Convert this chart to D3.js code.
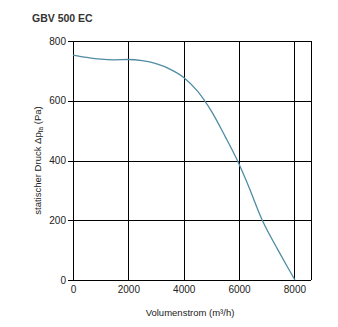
<!DOCTYPE html>
<html>
<head>
<meta charset="utf-8">
<script src="https://cdn.jsdelivr.net/npm/d3@7"></script>
<style>
  html, body { margin: 0; padding: 0; background: #fff; }
  svg { display: block; }
  text { font-family: "Liberation Sans", Arial, sans-serif; fill: #222; }
</style>
</head>
<body>
<svg id="chart" width="338" height="327"></svg>
<script>
// Fan curve: static pressure vs. air volume flow
const title = "GBV 500 EC";
const flow = [0, 500, 1000, 1500, 2000, 2500, 3000, 3500, 4000, 4500, 5000, 5500, 5940, 6300, 6840, 7410, 7740, 8020];
const pressure = [753, 745, 739, 737, 738, 734, 724, 706, 678, 632, 565, 480, 400, 324, 200, 100, 45, 0];
const xTicks = [0, 2000, 4000, 6000, 8000];
const yTicks = [0, 200, 400, 600, 800];

const svg = d3.select("#chart");
const m = { left: 73, right: 311, top: 41, bottom: 280 };

const x = d3.scaleLinear().domain([0, 8600]).range([m.left, m.right]);
const y = d3.scaleLinear().domain([0, 800]).range([m.bottom, m.top]);

// Title
svg.append("text")
  .attr("x", 32).attr("y", 22)
  .style("font-weight", "bold").style("font-size", "10.5px")
  .style("fill", "#333")
  .text(title);

// Grid
const grid = svg.append("g").attr("stroke", "#000").attr("stroke-width", 1).attr("shape-rendering", "crispEdges");
grid.selectAll("line.v").data(xTicks).join("line")
  .attr("x1", d => Math.round(x(d)) + 0.5).attr("x2", d => Math.round(x(d)) + 0.5)
  .attr("y1", m.top).attr("y2", m.bottom);
grid.selectAll("line.h").data(yTicks).join("line")
  .attr("x1", m.left - 5).attr("x2", m.right)
  .attr("y1", d => Math.round(y(d)) + 0.5).attr("y2", d => Math.round(y(d)) + 0.5);
grid.append("line")
  .attr("x1", m.right + 0.5).attr("x2", m.right + 0.5)
  .attr("y1", m.top).attr("y2", m.bottom);

// Tick labels via d3 axes (domain removed, grid drawn separately)
const yAxis = svg.append("g")
  .attr("transform", `translate(${m.left - 5},0)`)
  .call(d3.axisLeft(y).tickValues(yTicks).tickFormat(d3.format("d")).tickSize(0).tickPadding(2));
yAxis.select(".domain").remove();
yAxis.selectAll("text").style("font-size", "10px").style("font-family", "Liberation Sans, Arial, sans-serif").attr("fill", "#222");

const xAxis = svg.append("g")
  .attr("transform", `translate(0,${m.bottom})`)
  .call(d3.axisBottom(x).tickValues(xTicks).tickFormat(d3.format("d")).tickSize(0).tickPadding(6));
xAxis.select(".domain").remove();
xAxis.selectAll("text").style("font-size", "10px").style("font-family", "Liberation Sans, Arial, sans-serif").attr("fill", "#222");

// Axis titles
svg.append("text")
  .attr("x", (m.left + m.right) / 2 - 2).attr("y", 316)
  .attr("text-anchor", "middle").style("font-size", "9.5px")
  .text("Volumenstrom (m³/h)");

const yt = svg.append("text")
  .attr("transform", `translate(41,${(m.top + m.bottom) / 2}) rotate(-90)`)
  .attr("text-anchor", "middle").style("font-size", "9.5px");
yt.append("tspan").text("statischer Druck \u0394p");
yt.append("tspan").attr("dy", 2).style("font-size", "6.5px").text("fa");
yt.append("tspan").attr("dy", -2).text(" (Pa)");

// Curve
const line = d3.line()
  .x((d, i) => x(flow[i]))
  .y(d => y(d))
  .curve(d3.curveMonotoneX);
svg.append("path")
  .datum(pressure)
  .attr("d", line)
  .attr("fill", "none")
  .attr("stroke", "#4f8ca3")
  .attr("stroke-width", 1.3);
</script>
</body>
</html>
